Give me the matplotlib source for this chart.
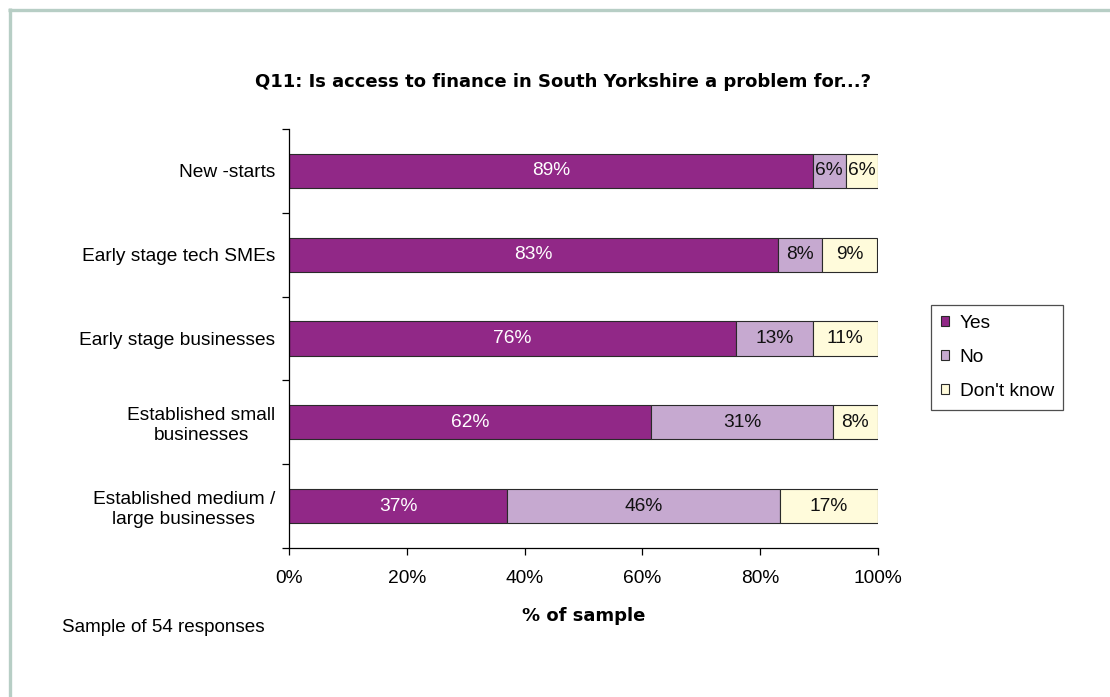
import matplotlib
matplotlib.use("Agg")
import matplotlib.pyplot as plt
from matplotlib.lines import Line2D
from matplotlib.patches import Patch
import numpy as np

plt.rcParams['font.family'] = ['Liberation Sans', 'DejaVu Sans']

categories = [
    "New -starts",
    "Early stage tech SMEs",
    "Early stage businesses",
    "Established small\nbusinesses",
    "Established medium /\nlarge businesses",
]
yes = [88.9, 83.0, 75.9, 61.5, 37.0]
no = [5.6, 7.5, 13.0, 30.8, 46.3]
dont_know = [5.5, 9.4, 11.1, 7.7, 16.7]
series_names = ["Yes", "No", "Don't know"]
series_colors = ["#912887", "#c6a9d0", "#fffbdb"]
label_colors = ["white", "#111111", "#111111"]
x_ticks = [0, 20, 40, 60, 80, 100]

W, H = 1110, 697
FS = 13.8
fig = plt.figure(figsize=(W / 100, H / 100), dpi=100)

# outer frame (top and left edges)
frame_col = "#b7cec5"
fig.add_artist(Line2D([9.5 / W, 9.5 / W], [0, 1 - 8 / H], transform=fig.transFigure,
                      color=frame_col, lw=2.4, solid_capstyle="butt"))
fig.add_artist(Line2D([8 / W, 1], [1 - 9.5 / H, 1 - 9.5 / H], transform=fig.transFigure,
                      color=frame_col, lw=2.4, solid_capstyle="butt"))

ax = fig.add_axes([289 / W, 1 - 548 / H, (878 - 289) / W, (548 - 129) / H])

n = len(categories)
ypos = np.arange(n)
left = np.zeros(n)
for vals, name, col, tcol in zip([yes, no, dont_know], series_names, series_colors, label_colors):
    vals = np.array(vals)
    ax.barh(ypos, vals, left=left, height=0.41, color=col, edgecolor="#2a2a2a",
            linewidth=0.8, label=name)
    for y, l, v in zip(ypos, left, vals):
        ax.text(l + v / 2, y, f"{v:.0f}%", ha="center", va="center",
                fontsize=FS, color=tcol)
    left = left + vals

ax.set_xlim(0, 100)
ax.set_ylim(n - 0.5, -0.5)

ax.set_yticks(ypos)
ax.set_yticklabels(categories, fontsize=FS, multialignment="center", linespacing=1.2)
ax.tick_params(axis="y", which="major", length=0, pad=10)
ax.set_yticks(np.arange(-0.5, n, 1.0), minor=True)
ax.tick_params(axis="y", which="minor", length=5, width=0.9, direction="out")
ax.set_xticks(x_ticks)
ax.set_xticklabels([f"{t}%" for t in x_ticks], fontsize=FS)
ax.tick_params(axis="x", length=5, width=0.9, direction="out", pad=11)
for s in ["top", "right"]:
    ax.spines[s].set_visible(False)
for s in ["left", "bottom"]:
    ax.spines[s].set_linewidth(0.9)

ax.set_xlabel("% of sample", fontsize=13, fontweight="bold", labelpad=14,
              family="DejaVu Sans")
fig.text(563 / W, 1 - 82 / H, "Q11: Is access to finance in South Yorkshire a problem for...?",
         ha="center", va="center", fontsize=13, fontweight="bold", family="DejaVu Sans")
fig.text(62 / W, 1 - 628 / H, "Sample of 54 responses", ha="left", va="center", fontsize=13.6)

handles = [Patch(facecolor=c, edgecolor="#2a2a2a", linewidth=0.8) for c in series_colors]
leg = fig.legend(handles, series_names, loc="upper left",
                 bbox_to_anchor=(931 / W, 1 - 305 / H), fontsize=FS,
                 frameon=True, fancybox=False, edgecolor="#222222",
                 handlelength=0.45, handleheight=0.45, handletextpad=0.55,
                 labelspacing=0.9, borderpad=0.5, borderaxespad=0)
leg.get_frame().set_linewidth(0.9)

fig.savefig("out.png", dpi=100)
